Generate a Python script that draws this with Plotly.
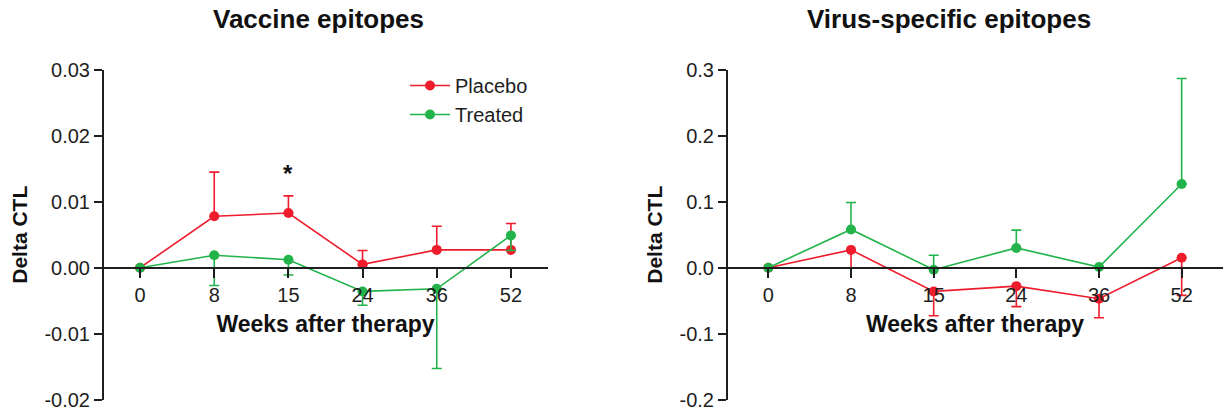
import plotly.graph_objects as go

# Sampling weeks after therapy (categorical x axis)
weeks = ["0", "8", "15", "24", "36", "52"]

# Vaccine epitopes: mean delta CTL and one-sided SEM
vac_placebo = [0.0, 0.0078, 0.0083, 0.0005, 0.0027, 0.0027]
vac_placebo_err = [0.0, 0.0067, 0.0026, 0.0021, 0.0036, 0.0040]
vac_treated = [0.0, 0.0019, 0.0012, -0.0036, -0.0032, 0.0049]
vac_treated_err = [0.0, 0.0046, 0.0023, 0.0021, 0.0121, 0.0023]

# Virus-specific epitopes: mean delta CTL and one-sided SEM
vir_placebo = [0.0, 0.027, -0.036, -0.028, -0.047, 0.015]
vir_placebo_err = [0.0, 0.027, 0.037, 0.031, 0.029, 0.057]
vir_treated = [0.0, 0.058, -0.003, 0.030, 0.001, 0.127]
vir_treated_err = [0.0, 0.041, 0.022, 0.027, 0.0, 0.160]

# Y tick values and labels for each panel
vac_ticks = [-0.02, -0.01, 0.0, 0.01, 0.02, 0.03]
vac_ticklabels = ["-0.02", "-0.01", "0.00", "0.01", "0.02", "0.03"]
vir_ticks = [-0.2, -0.1, 0.0, 0.1, 0.2, 0.3]
vir_ticklabels = ["-0.2", "-0.1", "0.0", "0.1", "0.2", "0.3"]

# Week 15 difference marked as significant in the vaccine panel
sig_week = "15"

RED = "#ee1c2c"
GREEN = "#22b44a"
INK = "#1e1e1e"
FONT = "Liberation Sans, Arial, sans-serif"

W, H = 1225, 411
left_dom = [103 / W, 548 / W]
right_dom = [727 / W, 1223 / W]
y_dom = [(H - 399.5) / H, (H - 70) / H]

vac_range = [vac_ticks[0], vac_ticks[-1]]
vir_range = [vir_ticks[0], vir_ticks[-1]]


def zero_position(rng):
    frac = (0 - rng[0]) / (rng[1] - rng[0])
    return y_dom[0] + frac * (y_dom[1] - y_dom[0])


fig = go.Figure()


def add_series(x_ax, y_ax, y, up, down, color, name, legend):
    fig.add_trace(go.Scatter(
        x=weeks, y=y, name=name, mode="lines+markers",
        xaxis=x_ax, yaxis=y_ax, showlegend=legend,
        line=dict(color=color, width=1.6),
        marker=dict(color=color, size=10),
        error_y=dict(type="data", symmetric=False, array=up, arrayminus=down,
                     color=color, thickness=1.6, width=5),
    ))


zeros = [0.0] * len(weeks)
add_series("x", "y", vac_placebo, vac_placebo_err, zeros, RED, "Placebo", True)
add_series("x", "y", vac_treated, zeros, vac_treated_err, GREEN, "Treated", True)
add_series("x2", "y2", vir_placebo, zeros, vir_placebo_err, RED, "Placebo", False)
add_series("x2", "y2", vir_treated, vir_treated_err, zeros, GREEN, "Treated", False)


def x_axis(domain, rng):
    return dict(
        type="category", categoryorder="array", categoryarray=weeks,
        range=[-0.5, len(weeks) - 0.5], domain=domain,
        anchor="free", position=zero_position(rng), automargin=False,
        showline=True, linecolor=INK, linewidth=2,
        ticks="outside", ticklen=9, tickwidth=2, tickcolor=INK,
        showgrid=False, zeroline=False,
        tickfont=dict(family=FONT, size=20, color=INK),
        title=dict(text="<b>Weeks after therapy</b>", standoff=10,
                   font=dict(family=FONT, size=23, color="#111")),
    )


def y_axis(domain_x, rng, vals, labels):
    return dict(
        range=rng, domain=y_dom, anchor="free", position=domain_x[0],
        automargin=False,
        tickvals=vals, ticktext=labels,
        showline=True, linecolor=INK, linewidth=2,
        ticks="outside", ticklen=8, tickwidth=2, tickcolor=INK,
        showgrid=False, zeroline=False,
        tickfont=dict(family=FONT, size=20, color=INK),
        title=dict(text="<b>Delta CTL</b>", standoff=10,
                   font=dict(family=FONT, size=21, color="#111")),
    )


fig.update_layout(
    width=W, height=H,
    margin=dict(l=0, r=0, t=0, b=0, autoexpand=False),
    paper_bgcolor="white", plot_bgcolor="white",
    font=dict(family=FONT, color=INK),
    xaxis=x_axis(left_dom, vac_range),
    yaxis=y_axis(left_dom, vac_range, vac_ticks, vac_ticklabels),
    xaxis2=x_axis(right_dom, vir_range),
    yaxis2=y_axis(right_dom, vir_range, vir_ticks, vir_ticklabels),
    legend=dict(x=405 / W, y=(H - 66) / H, xanchor="left", yanchor="top",
                bgcolor="rgba(0,0,0,0)", font=dict(family=FONT, size=20, color=INK),
                itemwidth=40, tracegroupgap=0),
    annotations=[
        dict(text="<b>Vaccine epitopes</b>", xref="paper", yref="paper",
             x=318 / W, y=(H - 19) / H, xanchor="center", yanchor="middle",
             showarrow=False, font=dict(family=FONT, size=26, color="#111")),
        dict(text="<b>Virus-specific epitopes</b>", xref="paper", yref="paper",
             x=949 / W, y=(H - 19) / H, xanchor="center", yanchor="middle",
             showarrow=False, font=dict(family=FONT, size=26, color="#111")),
        dict(text="<b>*</b>", xref="x", yref="y", x=weeks.index(sig_week),
             y=vac_placebo[2] + vac_placebo_err[2], yanchor="bottom",
             yshift=7, showarrow=False, font=dict(family=FONT, size=24, color="#111")),
    ],
)

fig.write_html("out.html")
